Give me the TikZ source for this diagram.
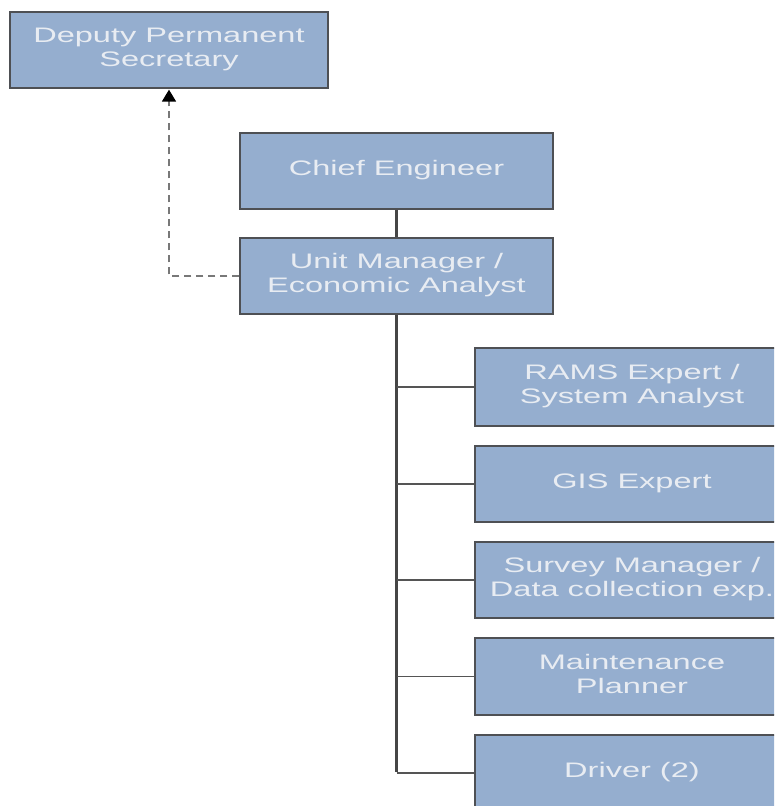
\documentclass[tikz,border=0pt]{standalone}
\usepackage{fontspec}
\setmainfont{Liberation Sans}
\usepackage{graphicx}
\usetikzlibrary{arrows.meta}
\definecolor{boxfill}{RGB}{149,174,207}
\definecolor{boxtext}{RGB}{232,236,242}
\definecolor{boxedge}{RGB}{78,80,84}
\definecolor{linkgray}{RGB}{85,85,85}
\definecolor{trunkgray}{RGB}{70,70,70}
\definecolor{dashgray}{RGB}{120,120,120}
\newcommand{\orglabel}[1]{\scalebox{1.55}[1]{\fontsize{21}{24}\selectfont\begin{tabular}{@{}c@{}}#1\end{tabular}}}
\tikzset{
  post/.style={draw=boxedge, line width=1.3pt, fill=boxfill, text=boxtext,
    minimum width=313pt, minimum height=76pt, inner sep=0pt, rectangle},
  link/.style={draw=linkgray, line width=1.6pt},
  trunk/.style={draw=trunkgray, line width=3pt},
  dotlink/.style={draw=dashgray, line width=1.8pt, dash pattern=on 7pt off 5pt}
}
\begin{document}
\begin{tikzpicture}[x=1pt,y=-1pt]
  \useasboundingbox (0,0) rectangle (774,806);
  \clip (0,0) rectangle (774,806);
  \fill[white] (0,0) rectangle (774,806);

  % management chain
  \node[post, minimum width=318pt] (dps) at (169,50) {\orglabel{Deputy Permanent\\Secretary}};
  \node[post] (ce) at (396.5,171) {\orglabel{Chief Engineer}};
  \node[post] (um) at (396.5,276) {\orglabel{Unit Manager /\\Economic Analyst}};

  % unit staff
  \node[post, minimum width=314pt, minimum height=78pt] (rams) at (632,387) {\orglabel{RAMS Expert /\\System Analyst}};
  \node[post, minimum width=314pt] (gis) at (632,484) {\orglabel{GIS Expert}};
  \node[post, minimum width=314pt] (survey) at (632,580) {\orglabel{Survey Manager /\\Data collection exp.}};
  \node[post, minimum width=314pt, minimum height=77pt] (maint) at (632,676.5) {\orglabel{Maintenance\\Planner}};
  \node[post, minimum width=314pt] (driver) at (632,773) {\orglabel{Driver (2)}};

  % reporting lines
  \draw[trunk] (ce.south) -- (um.north);
  \coordinate (trunkend) at (um.south |- driver.west);
  \draw[trunk] (um.south) -- ([yshift=0.8pt]trunkend);
  \foreach \n in {rams,gis,survey,maint,driver}
    \draw[link] (um.south |- \n.west) -- (\n.west);

  % advisory line to the deputy
  \draw[dotlink, -{Triangle[length=12pt,width=14pt,color=black]}, shorten >=1pt] (um.west) -| (dps.south);
\end{tikzpicture}
\end{document}
